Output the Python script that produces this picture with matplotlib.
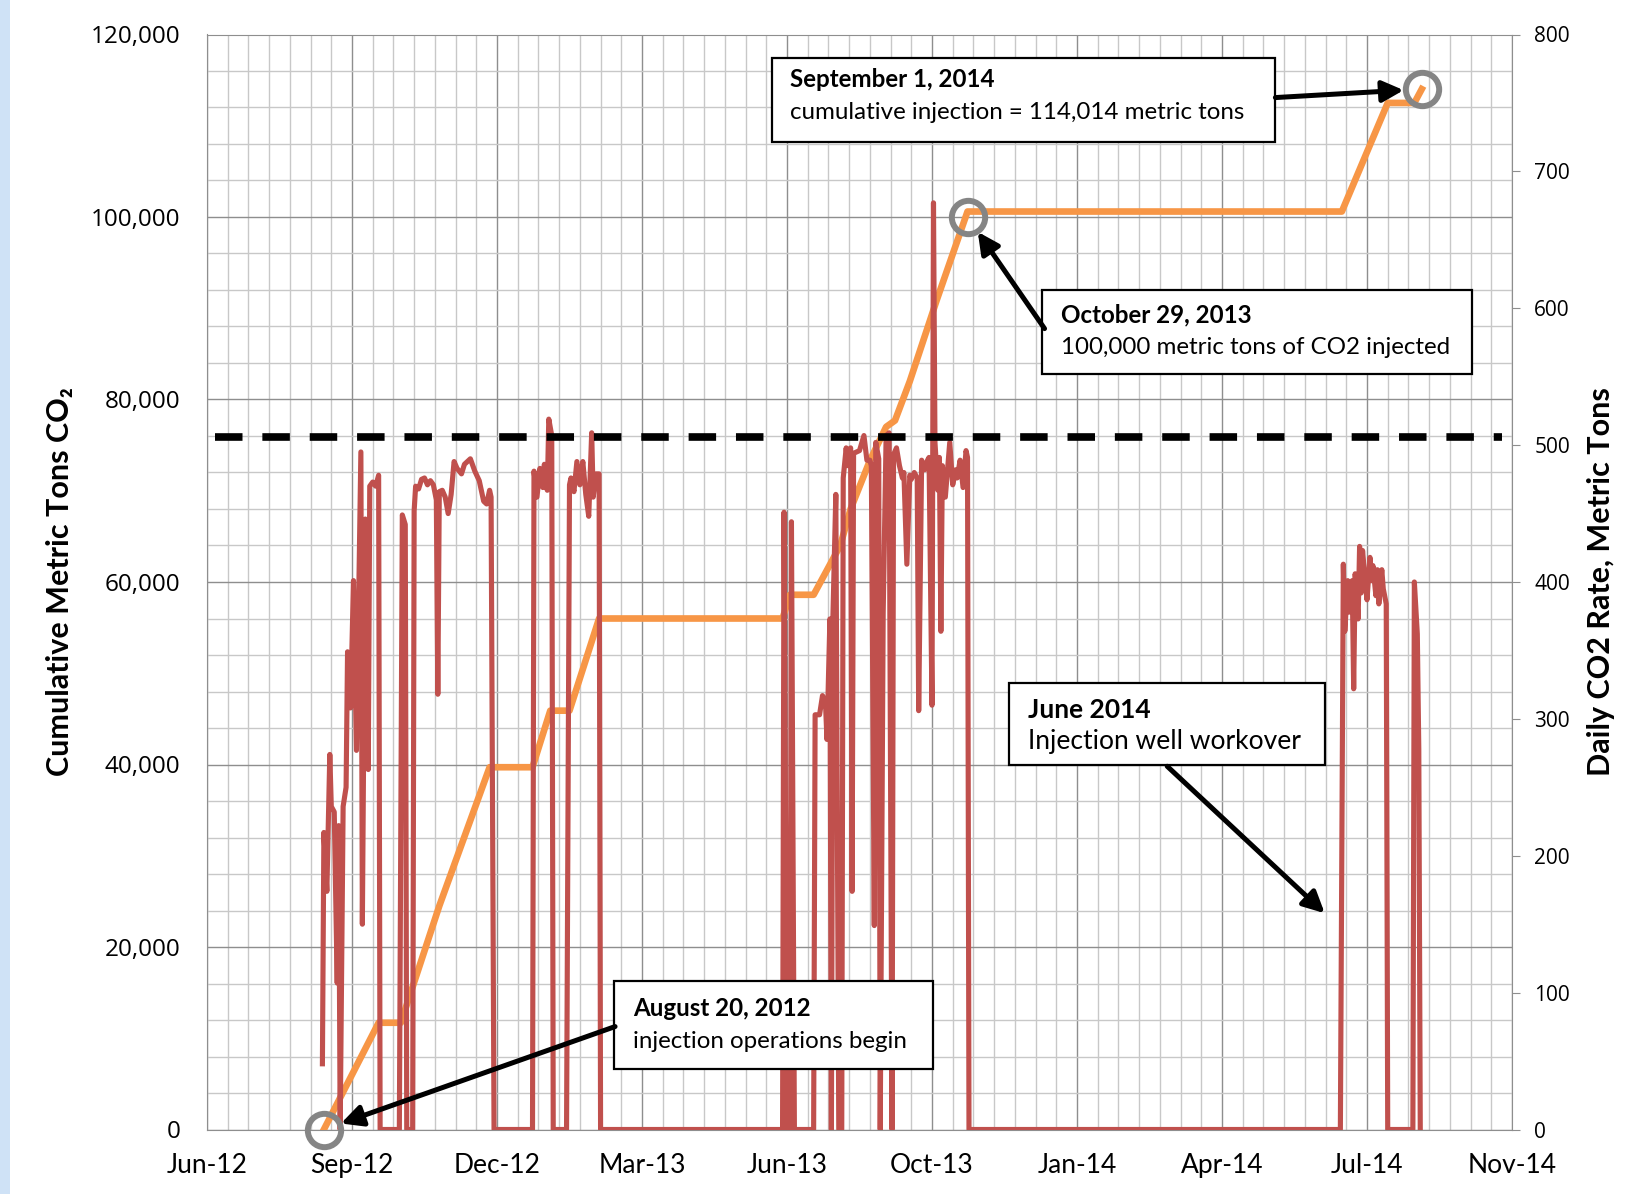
import pandas as pd
import numpy as np
import matplotlib.pyplot as plt
import matplotlib.dates as mdates
from matplotlib import font_manager as fm
from matplotlib.patches import Rectangle
from matplotlib.ticker import FuncFormatter, MultipleLocator

# fonts: narrow sans for labels, wider sans for axis numbers
names = {f.name for f in fm.fontManager.ttflist}
narrow = 'Liberation Sans Narrow' if 'Liberation Sans Narrow' in names else 'Lato'
wide = 'Open Sans'

# injection start; day counts below are measured from this date
start = pd.Timestamp('2012-08-20')

# daily CO2 injection rate, metric tons/day (right axis)
rate_day = [-1, 0, 2, 4, 5, 7, 9, 10, 11, 13, 15, 16, 18, 20, 22, 25, 26, 28, 30, 31,
            33, 35, 37, 38, 51, 53, 55, 56, 60, 61, 62, 64, 66, 68, 70, 72, 74, 76, 77, 78,
            80, 82, 84, 86, 88, 90, 93, 95, 99, 102, 105, 108, 110, 112, 113, 115, 141, 142, 144, 146,
            148, 149, 151, 152, 154, 155, 164, 166, 167, 169, 171, 173, 175, 177, 179, 181, 182, 184, 186, 187,
            310, 311, 313, 315, 316, 318, 331, 332, 335, 337, 339, 340, 342, 343, 344, 346, 348, 350, 351, 353,
            354, 356, 357, 358, 362, 365, 367, 369, 370, 372, 373, 375, 376, 378, 380, 382, 384, 385, 387, 389,
            391, 392, 394, 396, 397, 399, 401, 402, 404, 406, 408, 409, 411, 412, 413, 415, 416, 417, 418, 420,
            422, 423, 425, 427, 428, 430, 432, 434, 435, 436, 687, 689, 690, 692, 693, 695, 696, 697, 699, 700,
            701, 702, 704, 705, 707, 708, 709, 711, 712, 713, 715, 716, 718, 719, 736, 737, 739, 740, 741]
rate_val = [48, 217, 174, 274, 236, 232, 107, 222, 0, 236, 250, 349, 308, 401, 277, 495, 150, 446, 263, 470,
            473, 470, 478, 0, 0, 449, 442, 0, 0, 452, 470, 468, 475, 476, 471, 474, 471, 460, 318, 466,
            467, 462, 450, 464, 488, 483, 479, 486, 490, 481, 474, 459, 457, 467, 462, 0, 0, 481, 462, 483,
            469, 486, 467, 519, 507, 0, 0, 471, 476, 466, 488, 471, 488, 464, 448, 509, 462, 479, 479, 0,
            0, 451, 0, 0, 444, 0, 0, 303, 303, 317, 312, 285, 373, 0, 373, 464, 0, 0, 476, 498,
            485, 498, 174, 494, 496, 507, 489, 489, 485, 149, 502, 490, 0, 377, 507, 509, 0, 493, 498, 485,
            476, 480, 413, 478, 475, 480, 476, 306, 489, 482, 489, 491, 310, 677, 502, 467, 491, 364, 485, 462,
            489, 502, 471, 482, 476, 489, 469, 496, 491, 0, 0, 413, 364, 401, 378, 401, 322, 406, 373, 426,
            392, 423, 398, 387, 418, 401, 412, 390, 409, 384, 409, 395, 384, 0, 0, 400, 362, 278, 0]

# cumulative injected CO2, metric tons (left axis)
cum_day = [0, 37, 52, 78, 112, 141, 153, 166, 186, 310, 315, 331, 349, 356, 369, 380,
           386, 396, 414, 435, 688, 719, 737, 742]
cum_val = [0, 11700, 11700, 24500, 39700, 39700, 45900, 45900, 56000, 56000, 58600, 58600,
           64000, 68000, 73300, 77000, 77700, 82000, 90800, 100600, 100600, 112500, 112500, 114014]

rate_limit = 506  # dashed reference rate

# milestones circled on the cumulative curve
event_date = ['2012-08-20', '2013-10-29', '2014-09-01']
event_val = [0, 100000, 114014]

rate_x = start + pd.to_timedelta(rate_day, unit='D')
cum_x = start + pd.to_timedelta(cum_day, unit='D')
event_x = pd.to_datetime(event_date)

fig = plt.figure(figsize=(16.46, 11.94), dpi=100)
ax = fig.add_axes([207 / 1646, 1 - 1129.5 / 1194, 1305 / 1646, 1095 / 1194])
ax2 = ax.twinx()

# grid (left axis)
x0 = pd.Timestamp('2012-06-02')
major = pd.date_range(x0, periods=10, freq='98D')
minor = pd.date_range(x0, periods=64, freq='14D')
ax.set_xlim(major[0], major[-1])
ax.set_xticks(major)
ax.set_xticks(minor, minor=True)
ax.xaxis.set_major_formatter(mdates.DateFormatter('%b-%y'))
ax.set_ylim(0, 120000)
ax.yaxis.set_major_locator(MultipleLocator(20000))
ax.yaxis.set_minor_locator(MultipleLocator(4000))
ax.yaxis.set_major_formatter(FuncFormatter(lambda v, _: f'{v:,.0f}'))
ax.grid(which='major', color='#8e8e8e', lw=1.0)
ax.grid(which='minor', color='#c8c8c8', lw=1.0)
ax.set_axisbelow(True)
ax.tick_params(which='both', length=0)
ax.tick_params(axis='y', pad=19, labelsize=17.5)
ax.tick_params(axis='x', pad=17, labelsize=19)
for lab in ax.get_yticklabels():
    lab.set_family(wide)
for lab in ax.get_xticklabels():
    lab.set_family(narrow)
for side in ['left', 'bottom', 'top']:
    ax.spines[side].set_color('#8e8e8e')
ax.spines['right'].set_visible(False)

ax.plot(cum_x, cum_val, color='#f79646', lw=4.8, solid_joinstyle='round', zorder=3)

# daily rate (right axis)
ax2.set_ylim(0, 800)
ax2.yaxis.set_major_locator(MultipleLocator(100))
ax2.tick_params(axis='y', length=6, color='#8e8e8e', pad=10, labelsize=15)
for lab in ax2.get_yticklabels():
    lab.set_family(wide)
for side in ['left', 'bottom', 'top']:
    ax2.spines[side].set_visible(False)
ax2.spines['right'].set_color('#8e8e8e')

ax2.plot(rate_x, rate_val, color='#c0504d', lw=3.7, solid_joinstyle='round', zorder=3)
ax2.axhline(rate_limit, xmin=0.006, xmax=0.992, color='black', lw=5.5,
            dashes=(3.6, 2.6), zorder=4)

ax2.plot(event_x, event_val, 'o', ms=24, mfc='none', mec='#858585', mew=4.3,
         transform=ax.transData, zorder=5, clip_on=False)

ax.text(-0.1126, 0.5, 'Cumulative Metric Tons CO\u2082', transform=ax.transAxes,
        rotation=90, ha='center', va='center', fontsize=22, fontweight='bold',
        family=[narrow, 'DejaVu Sans'])
ax.text(1.0682, 0.5, 'Daily CO2 Rate, Metric Tons', transform=ax.transAxes,
        rotation=90, ha='center', va='center', fontsize=22, fontweight='bold',
        family=narrow)


def note(box, head, body, size, lines_y):
    bx0, by0, bx1, by1 = box
    ax2.add_patch(Rectangle((bx0, by0), bx1 - bx0, by1 - by0, transform=ax2.transAxes,
                            fc='white', ec='black', lw=1.6, zorder=8, clip_on=False))
    tx = bx0 + 0.0145
    ax2.text(tx, lines_y[0], head, transform=ax2.transAxes, ha='left', va='center',
             fontsize=size, fontweight='bold', family=narrow, zorder=9)
    ax2.text(tx, lines_y[1], body, transform=ax2.transAxes, ha='left', va='center',
             fontsize=size, family=narrow, zorder=9)


arrow = dict(arrowstyle='-|>', color='black', lw=3.6, mutation_scale=32, shrinkA=0)

note((0.4326, 0.9016, 0.8184, 0.9783), 'September 1, 2014',
     'cumulative injection = 114,014 metric tons', 17.4, (0.9586, 0.9289))
ax2.annotate('', xy=(mdates.date2num(event_x[2]), event_val[2]), xycoords=ax.transData,
             xytext=(0.8187, 0.9424), textcoords=ax2.transAxes,
             arrowprops=dict(arrow, shrinkB=13), zorder=10)

note((0.6398, 0.6900, 0.9693, 0.7667), 'October 29, 2013',
     '100,000 metric tons of CO2 injected', 17.4, (0.7438, 0.7142))
ax2.annotate('', xy=(mdates.date2num(event_x[1]), event_val[1]), xycoords=ax.transData,
             xytext=(0.6418, 0.7314), textcoords=ax2.transAxes,
             arrowprops=dict(arrow, shrinkB=13), zorder=10)

note((0.6146, 0.3329, 0.8567, 0.4078), 'June 2014',
     'Injection well workover', 19, (0.3835, 0.3539))
ax2.annotate('', xy=(0.8565, 0.1975), xycoords=ax2.transAxes,
             xytext=(0.7358, 0.3317), textcoords=ax2.transAxes,
             arrowprops=dict(arrow, shrinkB=0), zorder=10)

note((0.3119, 0.0556, 0.5563, 0.1352), 'August 20, 2012',
     'injection operations begin', 17.4, (0.1102, 0.0805))
ax2.annotate('', xy=(mdates.date2num(event_x[0]), event_val[0]), xycoords=ax.transData,
             xytext=(0.3127, 0.0940), textcoords=ax2.transAxes,
             arrowprops=dict(arrow, shrinkB=13), zorder=10)

# window edge strip
fig.patches.append(Rectangle((0, 0), 10 / 1646, 1, transform=fig.transFigure,
                             fc='#cfe2f6', ec='none'))

fig.savefig('out.png', dpi=100)
